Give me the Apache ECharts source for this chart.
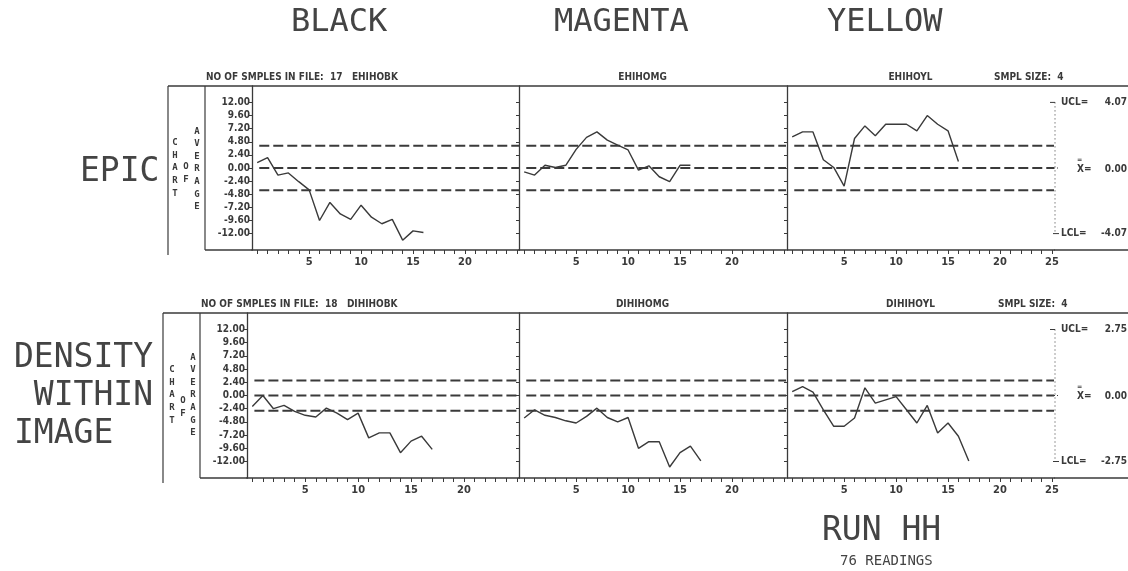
<!DOCTYPE html>
<html><head><meta charset="utf-8">
<script src="https://cdn.jsdelivr.net/npm/echarts@6/dist/echarts.min.js"></script>
<style>html,body{margin:0;padding:0;background:#fff}#c{width:1128px;height:571px}</style>
</head><body><div id="c"></div>
<script>
// ---------- data ----------
const columns = ['BLACK', 'MAGENTA', 'YELLOW'];
const rowLabels = ['EPIC', 'DENSITY\n WITHIN\nIMAGE'];
const fileNames = [['EHIHOBK', 'EHIHOMG', 'EHIHOYL'], ['DIHIHOBK', 'DIHIHOMG', 'DIHIHOYL']];
const sampleCounts = [17, 18];
const sampleSize = 4;
const uclValues = [4.07, 2.75];
const centreValues = [0.00, 0.00];
const lclValues = [-4.07, -2.75];
const runName = 'RUN HH';
const readings = 76;

const epicBlack   = [1.0, 1.9, -1.3, -0.9, -2.5, -4.0, -9.6, -6.3, -8.4, -9.4, -6.8, -9.0, -10.2, -9.4, -13.2, -11.5, -11.8];
const epicMagenta = [-0.7, -1.3, 0.5, 0.1, 0.5, 3.4, 5.6, 6.6, 5.1, 4.2, 3.3, -0.4, 0.4, -1.6, -2.5, 0.5, 0.5];
const epicYellow  = [5.7, 6.6, 6.6, 1.5, 0.1, -3.3, 5.4, 7.7, 5.9, 8.0, 8.0, 8.0, 6.8, 9.6, 8.0, 6.8, 1.2];
const densBlack   = [-2.0, 0.0, -2.4, -1.8, -2.9, -3.6, -3.9, -2.3, -3.2, -4.4, -3.2, -7.7, -6.8, -6.8, -10.4, -8.3, -7.4, -9.8];
const densMagenta = [-4.1, -2.6, -3.6, -4.0, -4.6, -5.0, -3.8, -2.3, -4.0, -4.8, -4.0, -9.6, -8.4, -8.4, -13.0, -10.4, -9.2, -11.9];
const densYellow  = [0.7, 1.6, 0.6, -2.6, -5.6, -5.6, -4.1, 1.4, -1.4, -0.8, -0.2, -2.6, -5.0, -1.8, -6.8, -5.0, -7.4, -11.9];

const yTickValues = [-12, -9.6, -7.2, -4.8, -2.4, 0, 2.4, 4.8, 7.2, 9.6, 12];
const xTickValues = [0,1,2,3,4,5,6,7,8,9,10,11,12,13,14,15,16,17,18,19,20,21,22,23,24,25];
const xLabelValues = [[5, 10, 15, 20], [5, 10, 15, 20], [5, 10, 15, 20, 25]];

// ---------- layout / style ----------
const values = [[epicBlack, epicMagenta, epicYellow], [densBlack, densMagenta, densYellow]];
const INK = '#3a3a3a';
const SMALL = 'DejaVu Sans Condensed';
const MONO = 'DejaVu Sans Mono';
const rowTop = [86, 313], rowH = [164, 165];
const panelLeft = [[252, 519, 787], [247, 519, 787]];
const panelW = [[267, 267, 267], [272, 267, 267]];
const xMin = -0.5, xMax = 25.2, yMin = -15, yMax = 15, dashStart = 0.2;

const grids = [], xAxes = [], yAxes = [], series = [];
for (let r = 0; r < 2; r++) {
  for (let c = 0; c < 3; c++) {
    const idx = r * 3 + c;
    grids.push({ left: panelLeft[r][c], top: rowTop[r], width: panelW[r][c], height: rowH[r] });
    xAxes.push({
      gridIndex: idx, type: 'value', min: xMin, max: xMax,
      axisLine: { show: true, onZero: false, lineStyle: { color: INK, width: 1.6 } },
      axisTick: { show: true, customValues: xTickValues, length: 4, lineStyle: { color: INK, width: 1 } },
      axisLabel: { show: true, customValues: xLabelValues[c], margin: 7, color: INK,
        fontFamily: SMALL, fontWeight: 'bold', fontSize: 11 },
      splitLine: { show: false }
    });
    yAxes.push({
      gridIndex: idx, type: 'value', min: yMin, max: yMax,
      axisLine: { show: true, onZero: false, lineStyle: { color: INK, width: 1.3 } },
      axisTick: { show: true, customValues: yTickValues, length: 3, lineStyle: { color: INK, width: 1 } },
      axisLabel: { show: c === 0, customValues: yTickValues, margin: 2, color: INK,
        fontFamily: SMALL, fontWeight: 'bold', fontSize: 10,
        formatter: v => v.toFixed(2) },
      splitLine: { show: false }
    });
    series.push({
      type: 'line', xAxisIndex: idx, yAxisIndex: idx, symbol: 'none', silent: true,
      data: values[r][c].map((v, i) => [i, v]),
      lineStyle: { color: INK, width: 1.4 }
    });
    [uclValues[r], centreValues[r], lclValues[r]].forEach(lim => {
      series.push({
        type: 'line', xAxisIndex: idx, yAxisIndex: idx, symbol: 'none', silent: true,
        data: [[dashStart, lim], [xMax, lim]],
        lineStyle: { color: INK, width: 2, type: [10, 4] }
      });
    });
  }
}

const chart = echarts.init(document.getElementById('c'));
chart.setOption({
  backgroundColor: '#fff', animation: false,
  grid: grids, xAxis: xAxes, yAxis: yAxes, series: series
});

// ---------- decorations ----------
const g = [];
function line(x1, y1, x2, y2, w, dash) {
  g.push({ type: 'line', silent: true, shape: { x1, y1, x2, y2 },
    style: { stroke: INK, lineWidth: w || 1.3, lineDash: dash || null } });
}
function text(t, x, y, size, family, opts) {
  opts = opts || {};
  g.push({ type: 'text', silent: true, x, y, style: {
    text: t, fill: opts.fill || INK, fontSize: size, fontFamily: family,
    fontWeight: opts.weight || 'normal', textAlign: opts.align || 'left',
    textVerticalAlign: 'middle', lineHeight: opts.lh || undefined } });
}

// column headings
const colLeft = [291, 554, 827];
columns.forEach((t, c) => text(t, colLeft[c], 23, 32, MONO, { fill: '#444' }));

// row labels
text(rowLabels[0], 80, 172, 33, MONO, { fill: '#444' });
text(rowLabels[1], 14, 396, 33, MONO, { fill: '#444', lh: 38 });

const outerX = [168, 163], innerX = [205, 200];
const vert = s => s.split('').join('\n');
const chartX = [[175, 186, 197], [172, 183, 193]];
const chartY = [[168, 173, 169], [395, 407, 395]];

for (let r = 0; r < 2; r++) {
  const top = rowTop[r], bot = rowTop[r] + rowH[r];
  const rightEnd = panelLeft[r][2] + panelW[r][2];
  // frame
  line(outerX[r], top, 1128, top, 1.6);
  line(outerX[r], top, outerX[r], bot + 5, 1.2);
  line(innerX[r], top, innerX[r], bot, 1.2);
  line(innerX[r], bot, panelLeft[r][0], bot, 1.6);
  line(rightEnd, bot, 1128, bot, 1.6);
  // vertical "CHART OF AVERAGE"
  ['CHART', 'OF', 'AVERAGE'].forEach((w, k) =>
    text(vert(w), chartX[r][k], chartY[r][k], 9, MONO, { weight: 'bold', align: 'center', lh: 12.6 }));
  // titles
  const ty = top - 9;
  text('NO OF SMPLES IN FILE:  ' + sampleCounts[r] + '   ' + fileNames[r][0], innerX[r] + 1, ty, 10, SMALL, { weight: 'bold' });
  text(fileNames[r][1], panelLeft[r][1] + panelW[r][1] / 2 - 10, ty, 10, SMALL, { weight: 'bold', align: 'center' });
  text(fileNames[r][2], panelLeft[r][2] + panelW[r][2] / 2 - 10, ty, 10, SMALL, { weight: 'bold', align: 'center' });
  text('SMPL SIZE:  ' + sampleSize, panelLeft[r][2] + 207 + r * 4, ty, 10, SMALL, { weight: 'bold' });

  // right-hand bracket with limits
  const gi = r * 3 + 2;
  const pTop = chart.convertToPixel({ gridIndex: gi }, [xMax, yTickValues[yTickValues.length - 1]]);
  const pMid = chart.convertToPixel({ gridIndex: gi }, [xMax, centreValues[r]]);
  const pBot = chart.convertToPixel({ gridIndex: gi }, [xMax, yTickValues[0]]);
  const bx = pTop[0] + 1;
  line(bx, pTop[1], bx, pBot[1], 1, [1, 3]);
  line(bx - 5, pTop[1], bx, pTop[1], 1);
  line(bx - 2, pBot[1], bx + 4, pBot[1], 1);
  line(bx - 4, pMid[1], bx + 4, pMid[1], 1, [1, 2]);
  text('UCL=', bx + 6, pTop[1], 10, SMALL, { weight: 'bold' });
  text(uclValues[r].toFixed(2), 1127, pTop[1], 10, SMALL, { weight: 'bold', align: 'right' });
  text('X=', bx + 22, pMid[1] + 1, 10, SMALL, { weight: 'bold' });
  text('=', bx + 22, pMid[1] - 8, 7, SMALL, { weight: 'bold' });
  text(centreValues[r].toFixed(2), 1127, pMid[1] + 1, 10, SMALL, { weight: 'bold', align: 'right' });
  text('LCL=', bx + 6, pBot[1], 10, SMALL, { weight: 'bold' });
  text(lclValues[r].toFixed(2), 1127, pBot[1], 10, SMALL, { weight: 'bold', align: 'right' });
}

// run label
text(runName, 822, 531, 33, MONO, { fill: '#444' });
text(readings + ' READINGS', 840, 561, 14, MONO, { fill: '#444' });

chart.setOption({ graphic: g });
</script>
</body></html>
